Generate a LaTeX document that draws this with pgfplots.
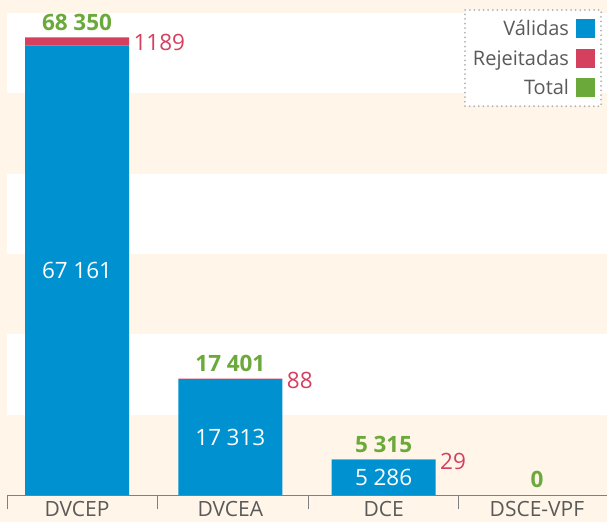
\documentclass[border=0pt]{standalone}
\usepackage{pgfplots}
\usepackage{pgfplotstable}
\pgfplotsset{compat=1.18}
\usepackage{fontspec}
\setmainfont{Open Sans}
\definecolor{cream}{HTML}{FFF5E9}
\definecolor{vblue}{HTML}{0092D0}
\definecolor{rred}{HTML}{D5405F}
\definecolor{tgreen}{HTML}{6BA93B}
\definecolor{txt}{HTML}{5A5A5A}
\definecolor{axgrey}{HTML}{808080}
\pgfplotstableread{
x valid rej total
0 67161 1189 68350
1 17313 88 17401
2 5286 29 5315
3 0 0 0
}\data
\pgfplotsset{
  common/.style={
    at={(7pt,27pt)}, anchor=south west,
    scale only axis, width=600pt, height=482pt,
    xmin=-0.457, xmax=3.457, ymin=0, ymax=72000,
  },
  /pgf/number format/assume math mode=true,
  /pgf/number format/1000 sep={\hspace{0.25em}},
}
\newcommand{\nz}{\pgfmathfloatifflags{\pgfplotspointmeta}{0}{}{\pgfmathprintnumber{\pgfplotspointmeta}}}
\newcommand{\numfont}{\fontsize{22.5}{26}\selectfont}
\begin{document}
\begin{tikzpicture}[x=1pt,y=1pt]
\fill[cream] (0,0) rectangle (607,522);
\fill[white] (7,107.333) rectangle (607,187.667);
\fill[white] (7,268.0) rectangle (607,348.333);
\fill[white] (7,428.667) rectangle (607,509);
\begin{axis}[common,
  ybar stacked, bar width=104pt,
  axis x line*=bottom, axis y line=none,
  x axis line style={color=axgrey, line width=0.9pt},
  xtick={0,1,2,3}, xticklabels={DVCEP,DVCEA,DCE,DSCE-VPF},
  major tick length=0pt,
  xticklabel style={font=\fontsize{21}{25}\selectfont, text=txt, yshift=-2.5pt},
  extra x ticks={-0.457,0.522,1.507,2.485}, extra x tick labels={},
  extra x tick style={major tick length=14pt, tick align=outside,
     tick style={color=axgrey, line width=0.9pt}},
  legend cell align=right, legend plot pos=right,
  legend image code/.code={\fill[#1] (0pt,-9.5pt) rectangle (19pt,9.5pt);},
  legend style={at={(rel axis cs:1,1)}, anchor=north east, xshift=-5pt, yshift=4pt,
    draw=black!30, line cap=round, dash pattern=on 0pt off 4.6pt, line width=2pt, fill=white,
    font=\fontsize{20}{24}\selectfont, text=txt, row sep=9pt,
    inner xsep=6pt, inner ysep=8pt,
    /tikz/every odd column/.append style={column sep=5pt}},
]
\addplot[fill=vblue, draw=none] table[x=x, y=valid]{\data};
\addlegendentry{Válidas}
\addplot[fill=rred, draw=none, point meta=explicit,
  nodes near coords={\nz},
  nodes near coords style={anchor=west, xshift=53pt, yshift=-1.5pt, text=rred,
    font=\numfont,
    /pgf/number format/min exponent for 1000 sep=4}]
  table[x=x, y=rej, meta=rej]{\data};
\addlegendentry{Rejeitadas}
\addlegendimage{fill=tgreen, draw=none}
\addlegendentry{Total}
\end{axis}
\begin{axis}[common, hide axis]
\addplot[draw=none, mark=none, y filter/.expression={y/2}, point meta=explicit,
  nodes near coords={\nz},
  nodes near coords style={anchor=center, text=white, font=\numfont}]
  table[x=x, y=valid, meta=valid]{\data};
\addplot[draw=none, mark=none, point meta=explicit,
  nodes near coords,
  nodes near coords style={anchor=south, yshift=3.5pt, text=tgreen, font=\numfont\bfseries}]
  table[x=x, y=total, meta=total]{\data};
\end{axis}
\pgfresetboundingbox
\path (0,0) rectangle (607,522);
\end{tikzpicture}
\end{document}
